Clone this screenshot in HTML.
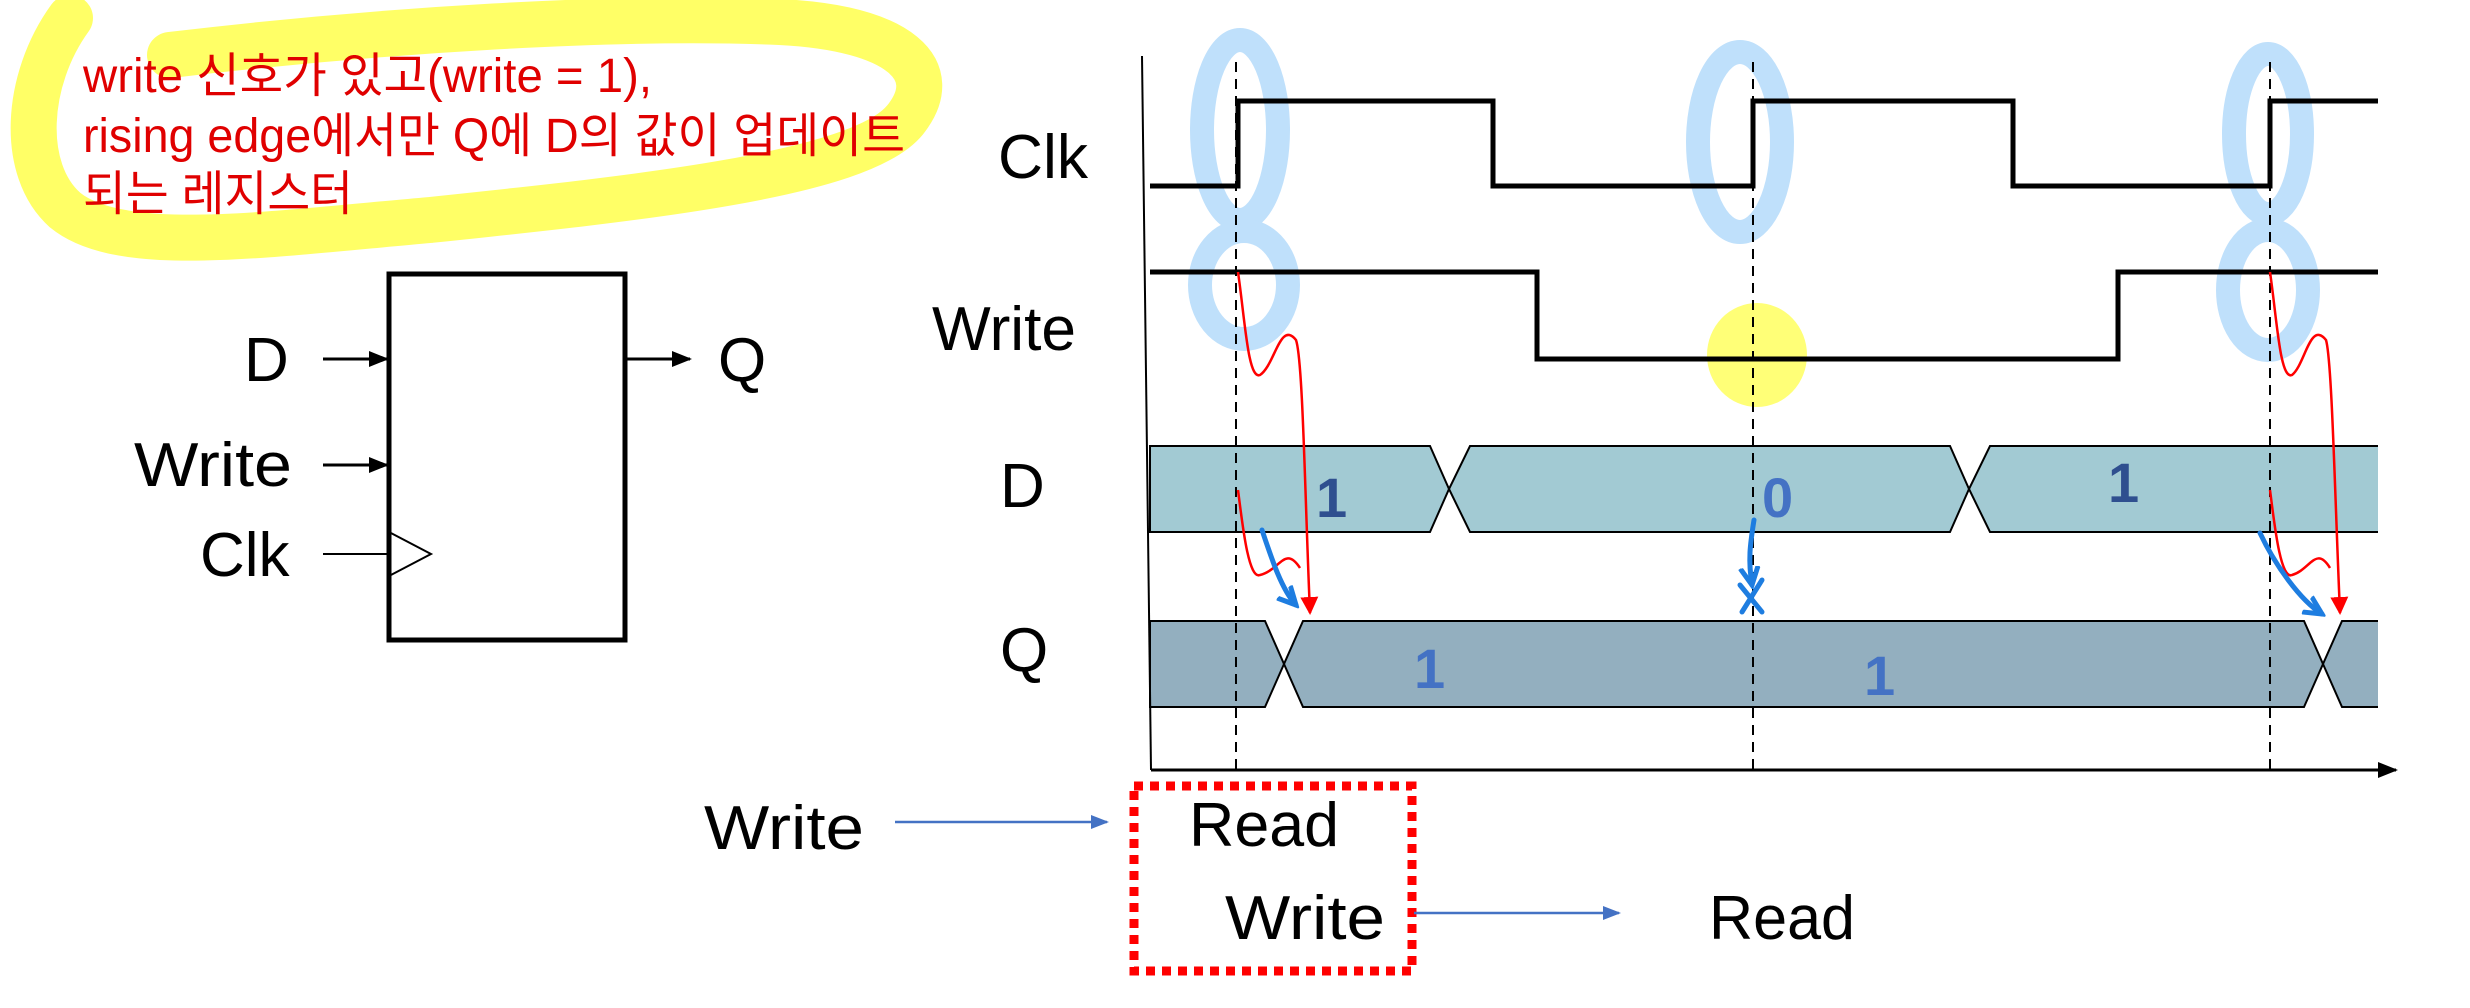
<!DOCTYPE html>
<html><head><meta charset="utf-8"><style>
html,body{margin:0;padding:0;background:#fff;}
svg{display:block;}
</style></head><body>
<svg width="2470" height="1008" viewBox="0 0 2470 1008" xmlns="http://www.w3.org/2000/svg">
<defs>
<marker id="ab2" markerWidth="20" markerHeight="16" refX="18" refY="8" orient="auto" markerUnits="userSpaceOnUse"><path d="M0,0 L20,8 L0,16 z" fill="#000"/></marker>
<marker id="abl" markerWidth="18" markerHeight="14" refX="16" refY="7" orient="auto" markerUnits="userSpaceOnUse"><path d="M0,0 L18,7 L0,14 z" fill="#4472c4"/></marker>
<marker id="abr" markerWidth="18" markerHeight="18" refX="16" refY="9" orient="auto" markerUnits="userSpaceOnUse"><path d="M0,0 L18,9 L0,18 z" fill="#ff0000"/></marker>
<marker id="abb" markerWidth="22" markerHeight="22" refX="18" refY="11" orient="auto" markerUnits="userSpaceOnUse"><path d="M0,2 L18,11 L0,20" fill="none" stroke="#1e7de0" stroke-width="5"/></marker>
</defs>

<!-- yellow highlight -->
<path d="M70,18 C25,80 20,170 65,210 C120,255 260,235 430,220 C640,198 860,175 905,120 C945,70 900,28 780,22 C620,15 380,30 170,55" fill="none" stroke="#ffff66" stroke-width="46" stroke-linecap="round"/>
<g font-family="'Liberation Sans','Noto Sans CJK KR',sans-serif" font-size="48" fill="#e00000">
<text x="83" y="92" textLength="569" lengthAdjust="spacingAndGlyphs">write 신호가 있고(write = 1),</text>
<text x="83" y="152" textLength="822" lengthAdjust="spacingAndGlyphs">rising edge에서만 Q에 D의 값이 업데이트</text>
<text x="83" y="210" textLength="270" lengthAdjust="spacingAndGlyphs">되는 레지스터</text>
</g>

<!-- register -->
<rect x="389" y="274" width="236" height="366" fill="none" stroke="#000" stroke-width="5"/>
<path d="M389,532 L431,554 L389,576" fill="none" stroke="#000" stroke-width="2"/>
<line x1="323" y1="359" x2="387" y2="359" stroke="#000" stroke-width="3" marker-end="url(#ab2)"/>
<line x1="323" y1="465" x2="387" y2="465" stroke="#000" stroke-width="3" marker-end="url(#ab2)"/>
<line x1="323" y1="554" x2="389" y2="554" stroke="#000" stroke-width="2"/>
<line x1="627" y1="359" x2="690" y2="359" stroke="#000" stroke-width="3" marker-end="url(#ab2)"/>
<g font-family="'Liberation Sans',sans-serif" font-size="62" fill="#000">
<text x="244" y="381">D</text>
<text x="134" y="486" textLength="158" lengthAdjust="spacingAndGlyphs">Write</text>
<text x="200" y="576">Clk</text>
<text x="718" y="381">Q</text>
<text x="998" y="178" textLength="90" lengthAdjust="spacingAndGlyphs">Clk</text>
<text x="932" y="350" textLength="144" lengthAdjust="spacingAndGlyphs">Write</text>
<text x="1000" y="507">D</text>
<text x="1000" y="671">Q</text>
</g>

<!-- blue highlights -->
<g fill="none" stroke="#bfe0fb" stroke-width="24">
<ellipse cx="1240" cy="130" rx="38" ry="90"/>
<ellipse cx="1244" cy="285" rx="44" ry="54"/>
<ellipse cx="1740" cy="142" rx="42" ry="90"/>
<ellipse cx="2268" cy="134" rx="34" ry="80"/>
<ellipse cx="2268" cy="290" rx="40" ry="60"/>
</g>
<ellipse cx="1757" cy="355" rx="50" ry="52" fill="#ffff77"/>

<!-- buses -->
<path d="M1150,446 L1430,446 L1449,489 L1430,532 L1150,532 z" fill="#a2cad3" stroke="#000" stroke-width="2"/>
<path d="M1470,446 L1950,446 L1969,489 L1950,532 L1470,532 L1449,489 z" fill="#a2cad3" stroke="#000" stroke-width="2"/>
<path d="M2378,446 L1990,446 L1969,489 L1990,532 L2378,532" fill="#a2cad3" stroke="#000" stroke-width="2"/>
<path d="M1150,621 L1265,621 L1284,664 L1265,707 L1150,707 z" fill="#93afbf" stroke="#000" stroke-width="2"/>
<path d="M1303,621 L2304,621 L2323,664 L2304,707 L1303,707 L1284,664 z" fill="#93afbf" stroke="#000" stroke-width="2"/>
<path d="M2378,621 L2342,621 L2323,664 L2342,707 L2378,707" fill="#93afbf" stroke="#000" stroke-width="2"/>

<!-- waveforms -->
<path d="M1150,186 L1238,186 L1238,101 L1493,101 L1493,186 L1753,186 L1753,101 L2013,101 L2013,186 L2270,186 L2270,101 L2378,101" fill="none" stroke="#000" stroke-width="5"/>
<path d="M1150,272 L1537,272 L1537,359 L2118,359 L2118,272 L2378,272" fill="none" stroke="#000" stroke-width="5"/>

<!-- axes -->
<line x1="1142" y1="56" x2="1151" y2="770" stroke="#000" stroke-width="2"/>
<line x1="1151" y1="770" x2="2396" y2="770" stroke="#000" stroke-width="3" marker-end="url(#ab2)"/>

<!-- dashed -->
<g stroke="#000" stroke-width="2" stroke-dasharray="10,7">
<line x1="1236" y1="62" x2="1236" y2="770"/>
<line x1="1753" y1="62" x2="1753" y2="770"/>
<line x1="2270" y1="62" x2="2270" y2="770"/>
</g>

<!-- numbers -->
<g font-family="'Liberation Sans',sans-serif" font-size="56" font-weight="bold">
<text x="1316" y="517" fill="#2f4f8f">1</text>
<text x="1762" y="517" fill="#4472c4">0</text>
<text x="2108" y="502" fill="#2f4f8f">1</text>
<text x="1414" y="688" fill="#4472c4">1</text>
<text x="1864" y="695" fill="#4472c4">1</text>
</g>

<!-- red curves -->
<g fill="none" stroke="#ff0000" stroke-width="2.5">
<path d="M1238,272 C1245,320 1248,380 1260,375 C1275,365 1280,320 1296,340 C1303,360 1305,500 1310,613" marker-end="url(#abr)"/>
<path d="M1238,490 C1242,520 1248,580 1260,575 C1280,570 1285,545 1300,568"/>
<path d="M2270,272 C2277,320 2280,380 2292,375 C2305,365 2310,320 2326,340 C2332,360 2335,500 2340,613" marker-end="url(#abr)"/>
<path d="M2270,490 C2274,520 2280,580 2292,575 C2310,570 2316,545 2330,568"/>
</g>
<!-- blue hand arrows -->
<g fill="none" stroke="#1e7de0" stroke-width="5" stroke-linecap="round">
<path d="M1262,530 C1272,560 1282,590 1296,605" marker-end="url(#abb)"/>
<path d="M1754,520 C1750,545 1748,560 1752,585" marker-end="url(#abb)"/>
<path d="M1740,585 L1762,612 M1762,580 L1742,612"/>
<path d="M2260,533 C2275,565 2300,600 2322,614" marker-end="url(#abb)"/>
</g>

<!-- bottom -->
<rect x="1134" y="786" width="278" height="185" fill="none" stroke="#ff0000" stroke-width="9" stroke-dasharray="9,7"/>
<line x1="895" y1="822" x2="1107" y2="822" stroke="#4472c4" stroke-width="2.5" marker-end="url(#abl)"/>
<line x1="1414" y1="913" x2="1619" y2="913" stroke="#4472c4" stroke-width="2.5" marker-end="url(#abl)"/>
<g font-family="'Liberation Sans','Noto Sans CJK KR',sans-serif" font-size="62" fill="#000">
<text x="704" y="849" textLength="160" lengthAdjust="spacingAndGlyphs">Write</text>
<text x="1189" y="846" textLength="150" lengthAdjust="spacingAndGlyphs">Read</text>
<text x="1225" y="939" textLength="160" lengthAdjust="spacingAndGlyphs">Write</text>
<text x="1709" y="939" textLength="146" lengthAdjust="spacingAndGlyphs">Read</text>
</g>
</svg>
</body></html>
